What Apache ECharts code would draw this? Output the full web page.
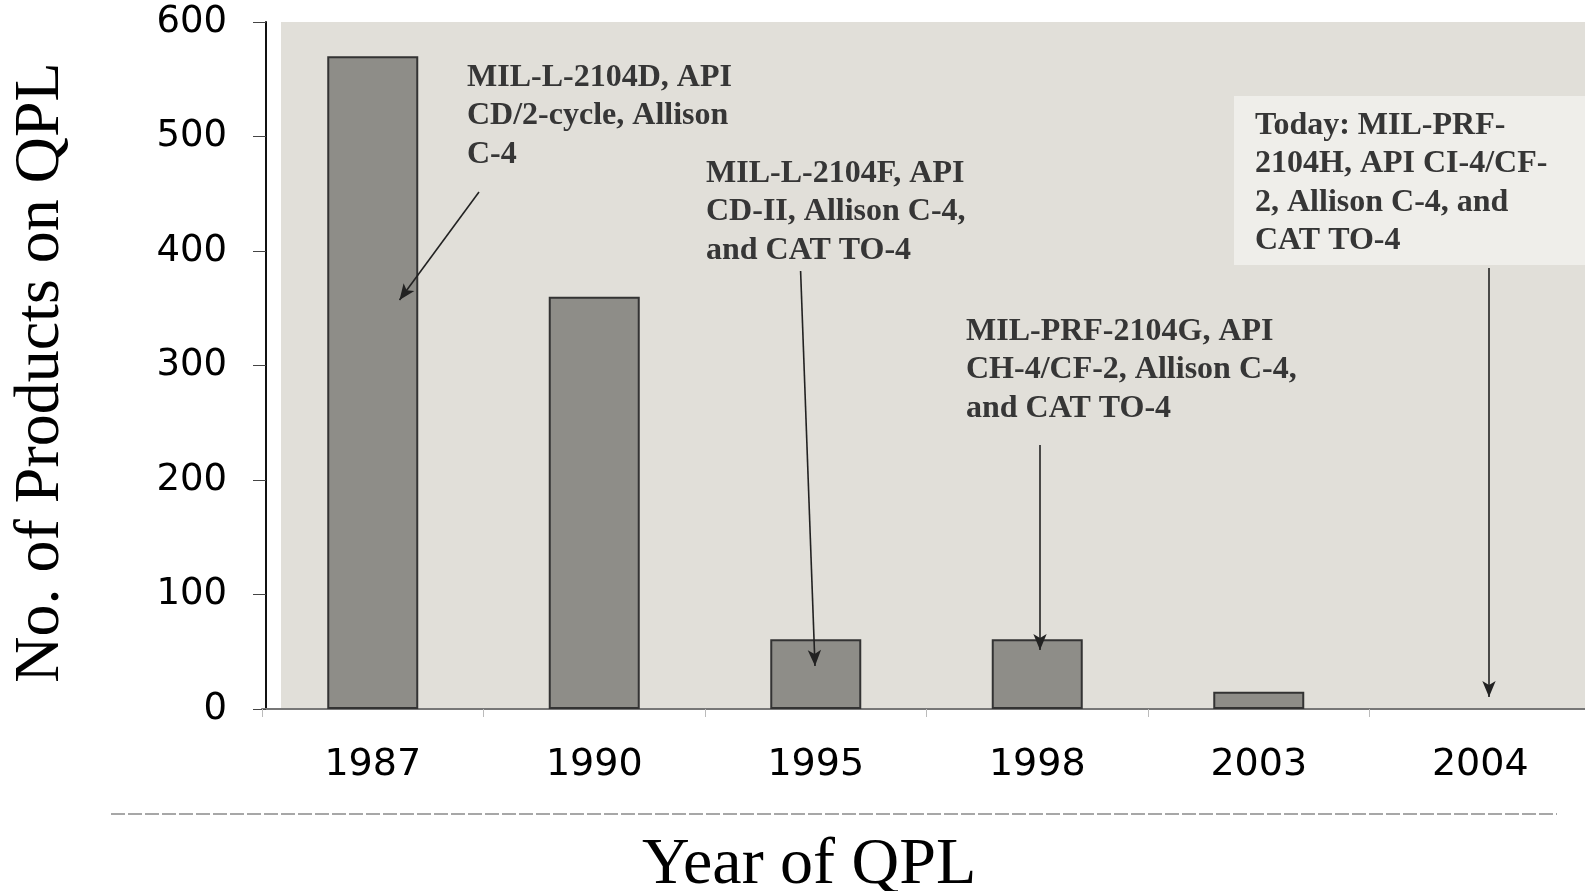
<!DOCTYPE html>
<html>
<head>
<meta charset="utf-8">
<script src="https://cdn.jsdelivr.net/npm/echarts@6/dist/echarts.min.js"></script>
<style>
html,body{margin:0;padding:0;background:#ffffff;overflow:hidden;}
#chart{width:1610px;height:891px;}
</style>
</head>
<body>
<div id="chart"></div>
<script>
const years = ['1987', '1990', '1995', '1998', '2003', '2004'];
const products = [570, 360, 61, 61, 15, 0];
const yAxisTitle = 'No. of Products on QPL';
const xAxisTitle = 'Year of QPL';
const notes = [
  'MIL-L-2104D, API\nCD/2-cycle, Allison\nC-4',
  'MIL-L-2104F, API\nCD-II, Allison C-4,\nand CAT TO-4',
  'MIL-PRF-2104G, API\nCH-4/CF-2, Allison C-4,\nand CAT TO-4',
  'Today: MIL-PRF-\n2104H, API CI-4/CF-\n2, Allison C-4, and\nCAT TO-4'
];

const chart = echarts.init(document.getElementById('chart'), null, {renderer: 'canvas'});
const noteFont = 'bold 32px "Liberation Serif", "Times New Roman", serif';
const noteColor = '#363636';
const notePos = [[467, 58], [706, 154], [966, 312], [1255, 106]];

const arrows = [
  [[479, 192], [399.5, 300]],
  [[800.6, 271], [815, 666]],
  [[1040, 445], [1040, 650]],
  [[1489, 268], [1489, 697]]
];

const option = {
  animation: false,
  backgroundColor: '#ffffff',
  title: {
    text: xAxisTitle,
    left: 637,
    top: 828,
    textStyle: {
      fontFamily: '"Liberation Serif", "Times New Roman", serif',
      fontSize: 66,
      fontWeight: 'normal',
      color: '#000'
    }
  },
  grid: {left: 262, top: 22, bottom: 182, width: 1329, containLabel: false, outerBoundsMode: 'none'},
  graphic: [
    {type: 'rect', z: -10, shape: {x: 281, y: 22, width: 1330, height: 687}, style: {fill: '#e1dfd9'}},
    {type: 'rect', z: -9, shape: {x: 1234, y: 96, width: 380, height: 169}, style: {fill: '#efeeea'}},
    {type: 'line', shape: {x1: 111, y1: 814, x2: 1557, y2: 814}, style: {stroke: '#8a8a8a', lineWidth: 1.5, lineDash: [14, 3]}},
  ].concat(notes.map((t, i) => ({
    type: 'text', z: 10,
    x: notePos[i][0], y: notePos[i][1],
    style: {text: t, font: noteFont, fill: noteColor, lineHeight: 38.5, textAlign: 'left', textVerticalAlign: 'top'}
  }))),
  xAxis: {
    type: 'category',
    data: years,
    axisLine: {lineStyle: {color: '#777', width: 2}},
    axisTick: {show: true, length: 8, lineStyle: {color: '#bbb'}},
    axisLabel: {
      color: '#000', fontSize: 38, margin: 37,
      fontFamily: '"DejaVu Sans", sans-serif'
    }
  },
  yAxis: {
    type: 'value',
    min: 0, max: 600, interval: 100,
    offset: -4,
    name: yAxisTitle,
    nameLocation: 'middle',
    nameGap: 193,
    nameTextStyle: {
      fontFamily: '"Liberation Serif", "Times New Roman", serif',
      fontSize: 64, color: '#000',
      padding: [0, 14, 0, 0]
    },
    axisLine: {show: true, lineStyle: {color: '#111', width: 2}},
    axisTick: {show: true, length: 13, lineStyle: {color: '#444', width: 1}},
    splitLine: {show: false},
    axisLabel: {
      color: '#000', fontSize: 37, margin: 39,
      fontFamily: '"DejaVu Sans", sans-serif'
    }
  },
  series: [{
    type: 'bar',
    data: products.map(v => v === 0 ? {value: v, itemStyle: {borderWidth: 0}} : v),
    barWidth: 91,
    itemStyle: {color: '#8e8d88', borderColor: '#333', borderWidth: 2},
    markLine: {
      silent: true,
      symbol: ['none', 'arrow'],
      symbolSize: [10, 16],
      label: {show: false},
      lineStyle: {color: '#222', width: 1.6, type: 'solid'},
      data: arrows.map(a => [{x: a[0][0], y: a[0][1]}, {x: a[1][0], y: a[1][1]}])
    }
  }]
};
chart.setOption(option);
</script>
</body>
</html>
